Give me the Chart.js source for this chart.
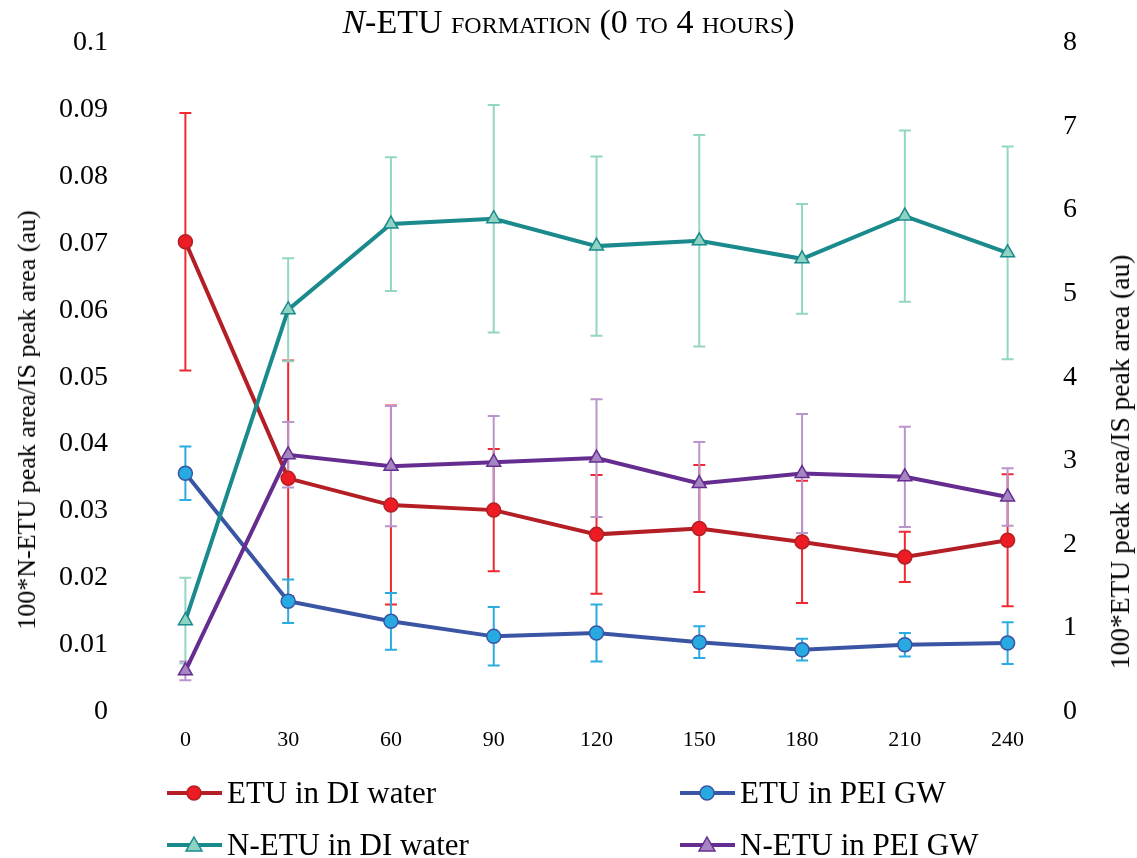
<!DOCTYPE html>
<html>
<head>
<meta charset="utf-8">
<script src="https://cdn.jsdelivr.net/npm/chart.js@4"></script>
<style>
  body { margin: 0; background: #fff; font-family: "Liberation Serif", "Times New Roman", serif; color: #000; }
  #wrap { position: relative; width: 1137px; height: 858px; }
  #title { position: absolute; left: 0; width: 1137px; top: 0px; text-align: center; font-size: 34px; line-height: 44px; }
  #title .sc { font-variant: small-caps; }
  .ytitle { position: absolute; font-size: 26px; white-space: nowrap; line-height: 30px; transform: translate(-50%, -50%) rotate(-90deg); }
  .leg { position: absolute; font-size: 31px; line-height: 36px; white-space: nowrap; display: flex; align-items: center; }
  .leg svg { margin-right: 5px; }
</style>
</head>
<body>
<div id="wrap">
  <canvas id="c"></canvas>
  <div id="title"><i>N</i>-ETU <span class="sc">formation (0 to 4 hours)</span></div>
  <div class="ytitle" style="left:27px; top:420px;">100*N-ETU peak area/IS peak area (au)</div>
  <div class="ytitle" style="left:1120px; top:462px; font-size:27.5px;">100*ETU peak area/IS peak area (au)</div>
  <div id="legend"></div>
</div>
<script>
var times = ['0', '30', '60', '90', '120', '150', '180', '210', '240'];

// ETU (right axis)
var etuDI = [5.62, 2.79, 2.47, 2.41, 2.12, 2.19, 2.03, 1.85, 2.05];
var etuDIerr = [1.54, 1.41, 1.19, 0.73, 0.71, 0.76, 0.73, 0.30, 0.79];
var etuGW = [2.85, 1.32, 1.08, 0.90, 0.94, 0.83, 0.74, 0.80, 0.82];
var etuGWerr = [0.32, 0.26, 0.34, 0.35, 0.34, 0.19, 0.13, 0.14, 0.25];

// N-ETU (left axis)
var netuDI = [0.0136, 0.0601, 0.0729, 0.0737, 0.0696, 0.0704, 0.0677, 0.0741, 0.0686];
var netuDIerr = [0.0064, 0.0077, 0.0100, 0.0170, 0.0134, 0.0158, 0.0082, 0.0128, 0.0159];
var netuGW = [0.0061, 0.0384, 0.0367, 0.0373, 0.0379, 0.0341, 0.0356, 0.0351, 0.0321];
var netuGWerr = [0.0014, 0.0049, 0.0090, 0.0069, 0.0088, 0.0062, 0.0089, 0.0075, 0.0043];

var errorBars = {
  id: 'errorBars',
  beforeDatasetsDraw: function(chart) {
    var ctx = chart.ctx;
    chart.data.datasets.forEach(function(ds, i) {
      var meta = chart.getDatasetMeta(i);
      var scale = chart.scales[ds.yAxisID];
      ctx.save();
      ctx.strokeStyle = ds.errColor;
      ctx.lineWidth = 2;
      meta.data.forEach(function(pt, j) {
        var v = ds.data[j], e = ds.errors[j];
        var top = scale.getPixelForValue(v + e);
        var bot = scale.getPixelForValue(v - e);
        ctx.beginPath();
        ctx.moveTo(pt.x, top); ctx.lineTo(pt.x, bot);
        ctx.moveTo(pt.x - 6, top); ctx.lineTo(pt.x + 6, top);
        ctx.moveTo(pt.x - 6, bot); ctx.lineTo(pt.x + 6, bot);
        ctx.stroke();
      });
      ctx.restore();
    });
  }
};

function series(label, data, errs, axis, line, fill, err, shape, order) {
  return {
    label: label, data: data, errors: errs, errColor: err, yAxisID: axis,
    borderColor: line, borderWidth: 4, backgroundColor: fill,
    pointStyle: shape, pointRadius: shape == 'triangle' ? 8 : 7,
    pointBorderColor: line, pointBackgroundColor: fill, pointBorderWidth: 1.5,
    tension: 0, order: order
  };
}

var datasets = [
  series('ETU in DI water', etuDI, etuDIerr, 'y1', '#B31F24', '#ED1C24', '#EE2A30', 'circle', 4),
  series('ETU in PEI GW', etuGW, etuGWerr, 'y1', '#3A55A4', '#27AAE1', '#2AACE2', 'circle', 3),
  series('N-ETU in DI water', netuDI, netuDIerr, 'y', '#1B8A8C', '#8ED3C1', '#93D6C3', 'triangle', 2),
  series('N-ETU in PEI GW', netuGW, netuGWerr, 'y', '#662D91', '#A686C2', '#BA95CB', 'triangle', 1)
];

var font = "'Liberation Serif', 'Times New Roman', serif";

var chart = new Chart(document.getElementById('c').getContext('2d'), {
  type: 'line',
  data: { labels: times, datasets: datasets },
  plugins: [errorBars],
  options: {
    responsive: true, maintainAspectRatio: false, animation: false,
    layout: { padding: { left: 33, right: 56, top: 42, bottom: 90 } },
    plugins: { legend: { display: false }, tooltip: { enabled: false } },
    scales: {
      x: {
        offset: true,
        grid: { display: false, drawTicks: false }, border: { display: false },
        ticks: { color: '#000', padding: 15, font: { family: font, size: 22 } }
      },
      y: {
        position: 'left', min: 0, max: 0.1,
        grid: { display: false, drawTicks: false }, border: { display: false },
        ticks: { stepSize: 0.01, color: '#000', padding: 26, font: { family: font, size: 28 },
          callback: function(v) { return String(+v.toFixed(2)); } }
      },
      y1: {
        position: 'right', min: 0, max: 8,
        grid: { display: false, drawTicks: false }, border: { display: false },
        ticks: { stepSize: 1, color: '#000', padding: 4, font: { family: font, size: 28 } }
      }
    }
  }
});

// legend, two columns as in the original
var legPos = [[167, 793], [680, 793], [167, 845], [680, 845]];
var legend = document.getElementById('legend');
datasets.forEach(function(ds, i) {
  var marker = ds.pointStyle == 'triangle'
    ? '<polygon points="27,3 35,17 19,17" fill="' + ds.backgroundColor + '" stroke="' + ds.borderColor + '" stroke-width="1.5"/>'
    : '<circle cx="27" cy="11" r="7" fill="' + ds.backgroundColor + '" stroke="' + ds.borderColor + '" stroke-width="1.5"/>';
  var el = document.createElement('div');
  el.className = 'leg';
  el.style.left = legPos[i][0] + 'px';
  el.style.top = (legPos[i][1] - 18) + 'px';
  el.innerHTML = '<svg width="55" height="22"><line x1="0" y1="11" x2="55" y2="11" stroke="' + ds.borderColor + '" stroke-width="4"/>' + marker + '</svg>' + ds.label;
  legend.appendChild(el);
});
</script>
</body>
</html>
